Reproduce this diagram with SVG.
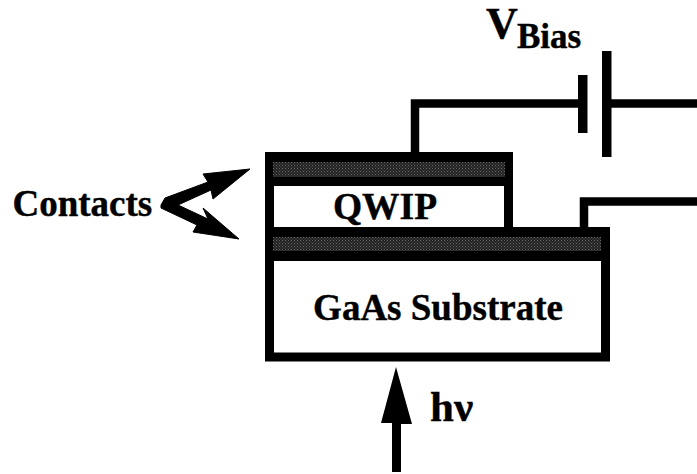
<svg xmlns="http://www.w3.org/2000/svg" width="697" height="474" viewBox="0 0 697 474">
<defs>
<pattern id="st" width="3" height="3" patternUnits="userSpaceOnUse">
<rect width="3" height="3" fill="#222"/>
<rect width="1" height="1" fill="#666"/>
<rect x="1.500" y="1.500" width="1" height="1" fill="#555"/>
</pattern>
</defs>
<style>
.t{font-family:"Liberation Serif","Times New Roman",serif;font-weight:bold;fill:#000;stroke:#000;stroke-width:.4}
.w{fill:none;stroke:#000;stroke-width:8.5}
.g{fill:url(#st)}
.k{fill:#000}
</style>
<rect width="697" height="474" fill="#fff"/>
<g id="connectors">
<path class="w" d="M415 153V103.500H579M611 103.500H697"/>
<path class="w" d="M584 228V201.500H697"/>
<rect class="k" x="578" y="75" width="9.500" height="58"/>
<rect class="k" x="602" y="51" width="9.500" height="106"/>
<path class="k" stroke="#000" stroke-width="1" d="M161 205L165 198L208 182L203 174L250 169L213 199L211 190L178 205L208 219L203 208L239 239L193 232L197 225L161 208Z"/>
<path class="k" d="M392 472V423H381L396 367L412 424H401V472Z"/>
</g>
<g id="substrate">
<rect x="269.500" y="256" width="336" height="101" fill="#fff" stroke="#000" stroke-width="9"/>
<text class="t" x="438" y="320" font-size="37" text-anchor="middle">GaAs Substrate</text>
</g>
<g id="qwip">
<rect x="269.500" y="181" width="239" height="51" fill="#fff" stroke="#000" stroke-width="9"/>
<text class="t" x="385" y="219" font-size="37.500" text-anchor="middle">QWIP</text>
</g>
<g id="top-contact">
<rect class="k" x="265" y="152" width="248" height="34"/>
<rect class="g" x="273" y="162" width="232" height="15"/>
</g>
<g id="bottom-contact">
<rect class="k" x="265" y="227" width="345" height="34"/>
<rect class="g" x="273" y="237" width="328" height="14"/>
</g>
<g id="labels">
<text class="t" x="12.500" y="216" font-size="37">Contacts</text>
<text class="t" x="486" y="38" font-size="44">V</text>
<text class="t" x="517" y="48" font-size="35">Bias</text>
<text class="t" x="430" y="421" font-size="43">hν</text>
</g>
</svg>
